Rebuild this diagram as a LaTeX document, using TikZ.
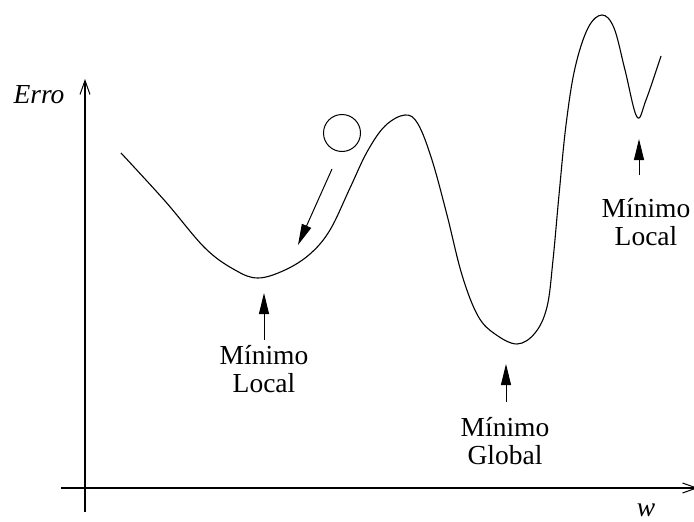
\documentclass[tikz,border=0pt]{standalone}
\usepackage{fontspec}
\setmainfont{Liberation Serif}
\usetikzlibrary{arrows.meta}
\begin{document}
\begin{tikzpicture}[x=1pt,y=-1pt,
  axis/.style={line width=1.5pt,-{Straight Barb[length=14pt,width=10pt,line width=1pt]}},
  curve/.style={line width=1.1pt},
  pointer/.style={line width=1pt,-{Triangle[length=21pt,width=10pt]}},
  lbl/.style={font=\fontsize{27.5}{28}\selectfont,align=center,inner sep=0pt,anchor=base},
  axlbl/.style={font=\fontsize{27.5}{28}\selectfont\itshape,inner sep=0pt,anchor=base}]
\useasboundingbox (0,0) rectangle (694,522);
% axes
\coordinate (yb) at (85,512);
\coordinate (yt) at (85,79);
\coordinate (xl) at (61,488);
\coordinate (xr) at (698,488);
\draw[axis] (yb) -- (yt);
\draw[axis] (xl) -- (xr);
\node[axlbl] (erro) at (39,103) {Erro};
\node[axlbl] (w) at (646,516) {w};
% error curve
\draw[curve] plot[smooth,tension=0.6] coordinates {
 (121,153) (165,201) (205,248) (235,270) (258,278) (285,270) (310,254)
 (330,230) (350,188) (367,152) (385,126) (405,115) (418,124) (432,160)
 (447,215) (462,275) (478,316) (495,334) (517,344) (535,333) (547,307)
 (553,260) (559,195) (566,125) (575,68) (588,28) (602,15) (614,28)
 (625,70) (637,117) (646,100) (661,56)};
% ball
\node[draw,circle,line width=1pt,minimum size=37pt,inner sep=0pt] (ball) at (342,133) {};
\coordinate (bt) at (332,169);
\coordinate (bh) at (298,245);
\draw[pointer] (bt) -- (bh);
% labels
\node[lbl] (l1) at (264,392) {Mínimo\\Local};
\coordinate (a1t) at (264,340);
\coordinate (a1h) at (264,293);
\draw[pointer] (a1t) -- (a1h);
\node[lbl] (l2) at (505,464) {Mínimo\\Global};
\coordinate (a2t) at (506,402);
\coordinate (a2h) at (506,364);
\draw[pointer] (a2t) -- (a2h);
\node[lbl] (l3) at (646,245) {Mínimo\\Local};
\coordinate (a3t) at (639,175);
\coordinate (a3h) at (639,139);
\draw[pointer] (a3t) -- (a3h);
\end{tikzpicture}
\end{document}
